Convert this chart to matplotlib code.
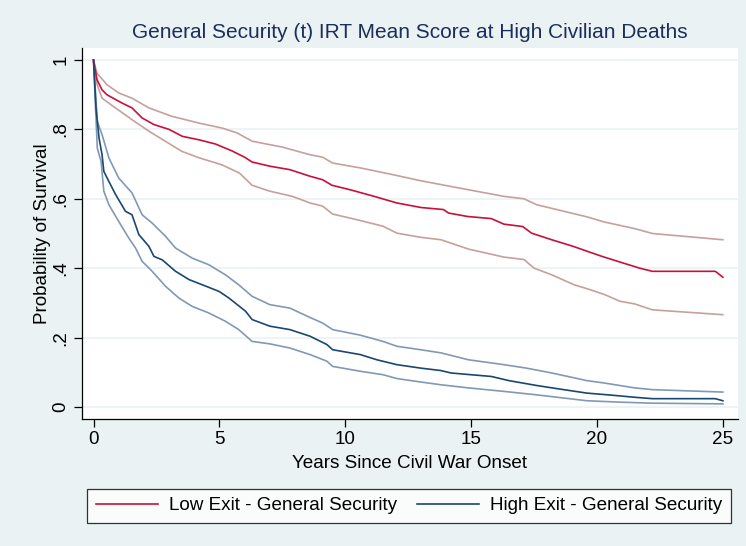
import matplotlib
matplotlib.use("Agg")
import matplotlib.pyplot as plt

plt.rcParams["font.family"] = ["Liberation Sans", "DejaVu Sans"]

# Kaplan-Meier survival estimates with 95% bands: (years, survival)
low_t = [0, 0.14, 0.34, 0.53, 1.13, 1.53, 1.93, 2.4, 3.0, 3.53, 4.19, 4.84, 5.5, 6.0,
         6.3, 7.0, 7.8, 8.6, 9.1, 9.47, 10.2, 11.1, 12.05, 13.0, 13.9, 14.1, 14.86,
         15.8, 16.3, 17.05, 17.4, 18.2, 19.05, 19.6, 20.2, 20.9, 21.7, 22.2, 24.7, 25.0]
low_s = [1.0, 0.943, 0.914, 0.90, 0.876, 0.862, 0.833, 0.814, 0.80, 0.78, 0.77, 0.758,
         0.738, 0.72, 0.706, 0.694, 0.684, 0.665, 0.655, 0.639, 0.626, 0.608, 0.588,
         0.575, 0.569, 0.559, 0.549, 0.543, 0.527, 0.52, 0.501, 0.482, 0.463, 0.449,
         0.434, 0.418, 0.40, 0.391, 0.391, 0.374]

low_hi_t = [0, 0.14, 0.53, 1.0, 1.53, 2.2, 3.1, 4.2, 5.1, 5.7, 6.3, 7.5, 8.6, 9.1, 9.5,
            10.6, 11.8, 13.0, 13.8, 14.9, 16.3, 17.1, 17.6, 18.4, 19.6, 20.3, 21.5, 22.2, 25.0]
low_hi_s = [1.0, 0.962, 0.929, 0.905, 0.89, 0.862, 0.838, 0.818, 0.804, 0.79, 0.766,
            0.749, 0.727, 0.72, 0.703, 0.689, 0.671, 0.652, 0.641, 0.626, 0.607, 0.60,
            0.583, 0.569, 0.548, 0.533, 0.514, 0.50, 0.482]

low_lo_t = [0, 0.14, 0.34, 0.87, 1.53, 2.2, 2.85, 3.5, 4.2, 5.1, 5.8, 6.3, 7.0, 7.9, 8.6,
            9.1, 9.5, 10.45, 11.5, 12.05, 13.0, 13.8, 14.9, 16.3, 17.1, 17.5, 18.2, 19.1,
            19.6, 20.3, 20.9, 21.5, 22.2, 25.0]
low_lo_s = [1.0, 0.93, 0.89, 0.862, 0.828, 0.795, 0.766, 0.737, 0.718, 0.698, 0.674,
            0.639, 0.622, 0.607, 0.588, 0.579, 0.556, 0.54, 0.521, 0.501, 0.489, 0.482,
            0.455, 0.432, 0.425, 0.40, 0.381, 0.352, 0.341, 0.324, 0.305, 0.297, 0.28, 0.266]

high_t = [0, 0.1, 0.22, 0.34, 0.41, 0.61, 0.88, 1.27, 1.53, 1.8, 2.2, 2.4, 2.73, 3.26,
          3.8, 4.33, 4.99, 5.38, 6.04, 6.3, 7.0, 7.8, 8.6, 9.27, 9.5, 10.6, 11.26, 12.05,
          13.0, 13.8, 14.2, 15.8, 16.5, 17.6, 18.4, 19.6, 20.6, 21.5, 22.2, 24.7, 25.0]
high_s = [1.0, 0.86, 0.775, 0.727, 0.679, 0.65, 0.612, 0.564, 0.554, 0.497, 0.463, 0.434,
          0.424, 0.391, 0.367, 0.352, 0.333, 0.314, 0.276, 0.252, 0.233, 0.223, 0.204,
          0.18, 0.165, 0.151, 0.136, 0.122, 0.112, 0.105, 0.098, 0.088, 0.076, 0.062,
          0.053, 0.040, 0.034, 0.028, 0.024, 0.024, 0.018]

high_hi_t = [0, 0.15, 0.34, 0.61, 1.0, 1.53, 1.93, 2.33, 2.86, 3.26, 3.92, 4.58, 5.24,
             5.77, 6.3, 7.0, 7.8, 8.6, 9.1, 9.5, 10.6, 11.5, 12.05, 13.0, 13.8, 14.9,
             16.3, 17.2, 18.2, 19.6, 20.3, 21.5, 22.2, 25.0]
high_hi_s = [1.0, 0.823, 0.785, 0.718, 0.66, 0.617, 0.554, 0.53, 0.492, 0.458, 0.429,
             0.41, 0.381, 0.352, 0.319, 0.295, 0.285, 0.258, 0.242, 0.223, 0.207, 0.189,
             0.175, 0.165, 0.156, 0.136, 0.122, 0.112, 0.098, 0.076, 0.069, 0.055, 0.05, 0.043]

high_lo_t = [0, 0.15, 0.3, 0.41, 0.61, 1.0, 1.4, 1.67, 1.93, 2.33, 2.86, 3.39, 3.92, 4.58,
             5.24, 5.77, 6.3, 7.0, 7.8, 8.6, 9.27, 9.5, 10.6, 11.5, 12.05, 13.0, 13.8,
             14.9, 16.3, 17.6, 19.6, 20.9, 22.2, 25.0]
high_lo_s = [1.0, 0.746, 0.708, 0.622, 0.583, 0.535, 0.487, 0.458, 0.42, 0.391, 0.348,
             0.314, 0.29, 0.271, 0.247, 0.223, 0.189, 0.182, 0.17, 0.151, 0.132, 0.117,
             0.103, 0.093, 0.082, 0.072, 0.064, 0.055, 0.045, 0.035, 0.018, 0.014, 0.011, 0.009]

x_ticks = [0, 5, 10, 15, 20, 25]
y_ticks = [0, 0.2, 0.4, 0.6, 0.8, 1.0]
y_ticklabels = ["0", ".2", ".4", ".6", ".8", "1"]

BG = "#eaf2f3"
RED, RED_CI = "#c8103a", "#c6a09c"
BLUE, BLUE_CI = "#1a476f", "#8199b6"
LW = 1.2
FS = 13.6

W, H = 746, 546
fig = plt.figure(figsize=(W / 100, H / 100), dpi=100, facecolor=BG)
ax = fig.add_axes([82 / W, 1 - 419 / H, (738 - 82) / W, (419 - 48) / H])
ax.set_facecolor("white")

# confidence bands first, point estimates on top
for t, s, c in [(low_hi_t, low_hi_s, RED_CI), (low_lo_t, low_lo_s, RED_CI),
                (high_hi_t, high_hi_s, BLUE_CI), (high_lo_t, high_lo_s, BLUE_CI)]:
    ax.plot(t, s, color=c, lw=LW, zorder=2)
h1, = ax.plot(low_t, low_s, color=RED, lw=LW, zorder=3, label="Low Exit - General Security")
h2, = ax.plot(high_t, high_s, color=BLUE, lw=LW, zorder=3, label="High Exit - General Security")

ax.set_xlim(-0.457, 25.6)
ax.set_ylim(-0.0346, 1.0346)
ax.set_xticks(x_ticks)
ax.set_yticks(y_ticks)
ax.set_yticklabels(y_ticklabels, rotation=90, va="center")
ax.grid(axis="y", color=BG, lw=1.2)
ax.set_axisbelow(True)

for side in ("top", "right"):
    ax.spines[side].set_visible(False)
for side in ("left", "bottom"):
    ax.spines[side].set_color("black")
    ax.spines[side].set_linewidth(0.9)
ax.tick_params(direction="out", length=6, width=0.9, labelsize=FS, pad=3)

ax.set_xlabel("Years Since Civil War Onset", fontsize=FS, labelpad=5)
ax.set_ylabel("Probability of Survival", fontsize=FS, labelpad=1)
fig.text(410 / W, 1 - 33 / H, "General Security (t) IRT Mean Score at High Civilian Deaths",
         ha="center", va="center", fontsize=15, color="#1c2e5c")

leg = fig.legend(handles=[h1, h2], loc="lower left", ncol=2, mode="expand",
                 bbox_to_anchor=(87 / W, 1 - 523 / H, 644 / W, 36 / H),
                 fontsize=FS, frameon=True, fancybox=False, borderaxespad=0,
                 handlelength=3.3, handletextpad=0.6, borderpad=0.45)
leg.get_frame().set_edgecolor("black")
leg.get_frame().set_linewidth(0.9)
leg.get_frame().set_facecolor("white")

fig.savefig("out.png", dpi=100, facecolor=BG)
